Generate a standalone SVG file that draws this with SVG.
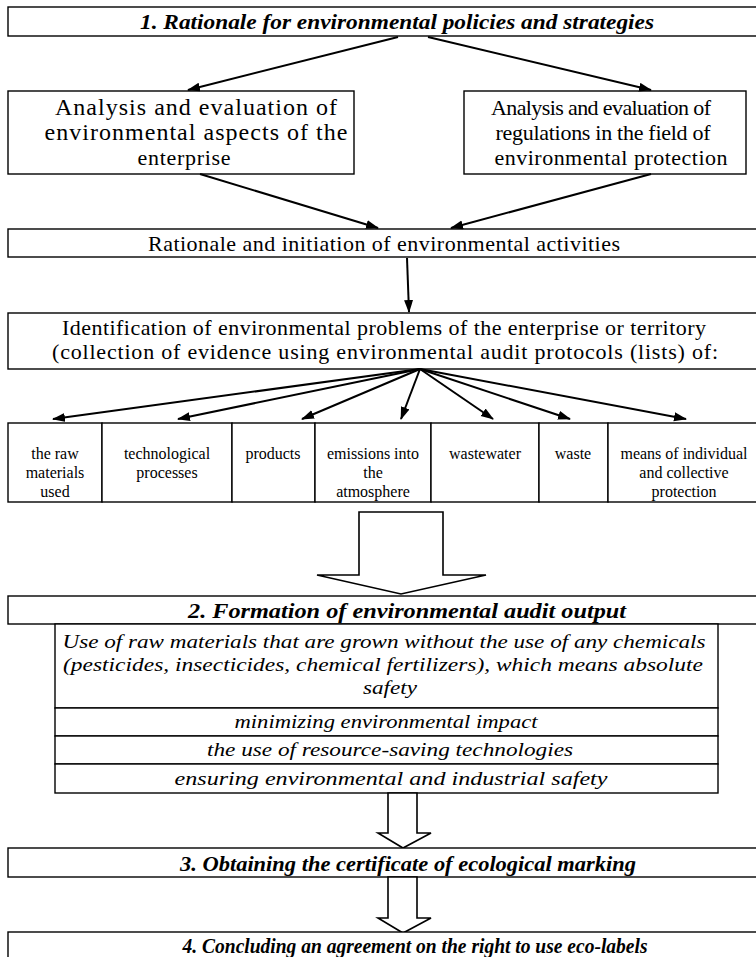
<svg xmlns="http://www.w3.org/2000/svg" width="756" height="957" viewBox="0 0 756 957">
<style>
.box{fill:#fff;stroke:#000;stroke-width:1.4}
text{font-family:"Liberation Serif","Times New Roman",serif;fill:#000;text-anchor:middle}
.r{font-size:22px}
.rl{font-size:24px}
.s{font-size:16px}
.bi{font-size:20px;font-weight:bold;font-style:italic}
.i{font-size:19px;font-style:italic}
.c{stroke:#000;stroke-width:2;fill:none;marker-end:url(#ah)}
.ha{fill:#fff;stroke:#000;stroke-width:1.6}
</style>
<defs>
<marker id="ah" markerUnits="userSpaceOnUse" markerWidth="13" markerHeight="10" refX="12" refY="4.5" orient="auto"><path d="M0,0 L13,4.5 L0,9 z" fill="#000"/></marker>
</defs>
<rect width="756" height="957" fill="#fff"/>

<g id="n1">
<rect class="box" x="8" y="7" width="760" height="29"/>
<text class="bi" x="397" y="29" textLength="514" lengthAdjust="spacingAndGlyphs">1.  Rationale for environmental policies and strategies</text>
</g>
<g id="n2a">
<rect class="box" x="8" y="91" width="346" height="83"/>
<text class="rl" x="196" y="115" textLength="282" lengthAdjust="spacing">Analysis and evaluation of</text>
<text class="rl" x="196" y="140" textLength="303" lengthAdjust="spacing">environmental aspects of the</text>
<text class="r" x="184" y="165" textLength="93" lengthAdjust="spacing">enterprise</text>
</g>
<g id="n2b">
<rect class="box" x="464" y="91" width="282" height="83"/>
<text class="r" x="601" y="115" textLength="220" lengthAdjust="spacing">Analysis and evaluation of</text>
<text class="r" x="603" y="140" textLength="215" lengthAdjust="spacing">regulations in the field of</text>
<text class="r" x="611" y="165" textLength="233" lengthAdjust="spacing">environmental protection</text>
</g>
<g id="n3">
<rect class="box" x="8" y="229" width="760" height="28"/>
<text class="r" x="384" y="251" textLength="472" lengthAdjust="spacing">Rationale and initiation of environmental activities</text>
</g>
<g id="n4">
<rect class="box" x="8" y="313" width="760" height="56"/>
<text class="r" x="384" y="335" textLength="644" lengthAdjust="spacing">Identification of environmental problems of the enterprise or territory</text>
<text class="r" x="385" y="359" textLength="666" lengthAdjust="spacing">(collection of evidence using environmental audit protocols (lists) of:</text>
</g>

<g id="c1">
<rect class="box" x="8" y="423" width="94" height="79"/>
<text class="s" x="55" y="459">the raw</text>
<text class="s" x="55" y="478">materials</text>
<text class="s" x="55" y="497">used</text>
</g>
<g id="c2">
<rect class="box" x="102" y="423" width="130" height="79"/>
<text class="s" x="167" y="459">technological</text>
<text class="s" x="167" y="478">processes</text>
</g>
<g id="c3">
<rect class="box" x="232" y="423" width="83" height="79"/>
<text class="s" x="273" y="459">products</text>
</g>
<g id="c4">
<rect class="box" x="315" y="423" width="116" height="79"/>
<text class="s" x="373" y="459">emissions into</text>
<text class="s" x="373" y="478">the</text>
<text class="s" x="373" y="497">atmosphere</text>
</g>
<g id="c5">
<rect class="box" x="431" y="423" width="108" height="79"/>
<text class="s" x="485" y="459">wastewater</text>
</g>
<g id="c6">
<rect class="box" x="539" y="423" width="69" height="79"/>
<text class="s" x="573" y="459">waste</text>
</g>
<g id="c7">
<rect class="box" x="608" y="423" width="160" height="79"/>
<text class="s" x="684" y="459">means of individual</text>
<text class="s" x="684" y="478">and collective</text>
<text class="s" x="684" y="497">protection</text>
</g>

<g id="bigArrow1">
<polygon class="ha" points="359,512 443,512 443,575 486,575 401,594 317,575 359,575"/>
</g>

<g id="n5">
<rect class="box" x="8" y="596" width="760" height="28"/>
<text class="bi" x="407" y="618" textLength="438" lengthAdjust="spacingAndGlyphs">2.  Formation of environmental audit output</text>
</g>
<g id="r1">
<rect class="box" x="55" y="624" width="663" height="84"/>
<text class="i" x="384" y="648" textLength="643" lengthAdjust="spacingAndGlyphs">Use of raw materials that are grown without the use of any chemicals</text>
<text class="i" x="383" y="671" textLength="640" lengthAdjust="spacingAndGlyphs">(pesticides, insecticides, chemical fertilizers), which means absolute</text>
<text class="i" x="390" y="694" textLength="54" lengthAdjust="spacingAndGlyphs">safety</text>
</g>
<g id="r2">
<rect class="box" x="55" y="708" width="663" height="28"/>
<text class="i" x="386" y="728" textLength="303" lengthAdjust="spacingAndGlyphs">minimizing environmental impact</text>
</g>
<g id="r3">
<rect class="box" x="55" y="736" width="663" height="28"/>
<text class="i" x="390" y="756" textLength="366" lengthAdjust="spacingAndGlyphs">the use of resource-saving technologies</text>
</g>
<g id="r4">
<rect class="box" x="55" y="764" width="663" height="29"/>
<text class="i" x="391" y="785" textLength="433" lengthAdjust="spacingAndGlyphs">ensuring environmental and industrial safety</text>
</g>

<g id="bigArrow2">
<polygon class="ha" points="388,793 417,793 417,833 431,833 403,848 378,833 388,833"/>
</g>

<g id="n6">
<rect class="box" x="8" y="848" width="760" height="29"/>
<text class="bi" x="408" y="871" textLength="456" lengthAdjust="spacingAndGlyphs">3. Obtaining the certificate of ecological marking</text>
</g>

<g id="bigArrow3">
<polygon class="ha" points="388,877 417,877 417,918 431,918 403,933 378,918 388,918"/>
</g>

<g id="n7">
<rect class="box" x="8" y="932" width="760" height="40"/>
<text class="bi" x="415" y="953" textLength="465" lengthAdjust="spacingAndGlyphs">4. Concluding an agreement on the right to use eco-labels</text>
</g>

<g id="connectors">
<line class="c" x1="398" y1="37" x2="188" y2="90"/>
<line class="c" x1="428" y1="37" x2="651" y2="90"/>
<line class="c" x1="200" y1="174" x2="378" y2="228"/>
<line class="c" x1="651" y1="174" x2="451" y2="228"/>
<line class="c" x1="407" y1="258" x2="409" y2="312"/>
<line class="c" x1="420" y1="369" x2="53" y2="419"/>
<line class="c" x1="420" y1="369" x2="178" y2="419"/>
<line class="c" x1="420" y1="369" x2="302" y2="419"/>
<line class="c" x1="420" y1="369" x2="401" y2="419"/>
<line class="c" x1="420" y1="369" x2="493" y2="419"/>
<line class="c" x1="420" y1="369" x2="570" y2="419"/>
<line class="c" x1="420" y1="369" x2="686" y2="419"/>
</g>
</svg>
